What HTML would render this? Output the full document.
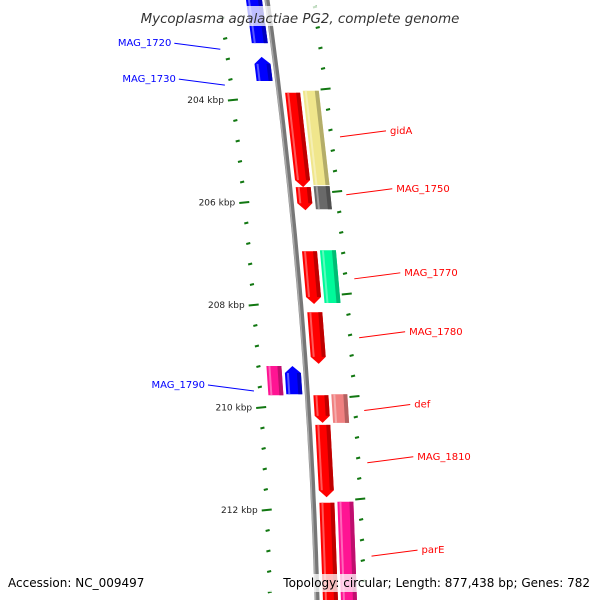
<!DOCTYPE html>
<html><head><meta charset="utf-8"><style>
html,body{margin:0;padding:0;background:#fff;}
svg{display:block;font-family:"DejaVu Sans","Liberation Sans",sans-serif;}
</style></head><body>
<svg id="map" width="600" height="600" viewBox="0 0 600 600" xmlns="http://www.w3.org/2000/svg">
<g id="ticks"></g>
<g id="backbone-g"></g>
<g id="genes"></g>
<g id="labels"></g>
<rect x="140" y="6" width="320" height="20" fill="#fff" opacity="0.75"/>
<text x="300" y="23" text-anchor="middle" font-size="13.4" font-style="italic" fill="#333">Mycoplasma agalactiae PG2, complete genome</text>
<text x="8" y="587" font-size="12" fill="#000">Accession: NC_009497</text>
<rect x="247" y="574" width="350" height="18" fill="#fff" opacity="0.75"/>
<text x="590" y="587" text-anchor="end" font-size="12" fill="#000">Topology: circular; Length: 877,438 bp; Genes: 782</text>
</svg>
<script>
const geneNames=["MAG_1720","MAG_1730","gidA","gidA_b","MAG_1750","MAG_1750_b","MAG_1770","MAG_1770_b","MAG_1780","MAG_1790","MAG_1790_b","def","def_b","MAG_1810","parE","parE_b"];
const geneStart=[201.95,203.16,203.86,203.82,205.70,205.68,206.95,206.93,208.14,209.19,209.19,209.76,209.74,210.34,211.86,211.84];
const geneEnd=[202.89,203.63,205.70,205.66,206.15,206.13,207.98,207.96,209.15,209.76,209.74,210.30,210.30,211.75,213.95,213.95];
const geneTrack=[-1,-1,1,2,1,2,1,2,1,-2,-1,1,2,1,1,2];
const geneArrow=["none","up","down","none","down","none","down","none","down","none","up","down","none","down","none","none"];
const geneColor=["#0000ff","#0000ff","#ff0000","#f0e68c","#ff0000","#696969","#ff0000","#00fa9a","#ff0000","#ff1493","#0000ff","#ff0000","#f08080","#ff0000","#ff0000","#ff1493"];
const labelText=["MAG_1720","MAG_1730","gidA","MAG_1750","MAG_1770","MAG_1780","MAG_1790","def","MAG_1810","parE"];
const labelPos=[202.97,203.67,204.68,205.81,207.45,208.6,209.64,210.02,211.04,212.86];
const labelSide=[-1,-1,1,1,1,1,-1,1,1,1];
const majorTicks=[204,206,208,210,212];

const NS="http://www.w3.org/2000/svg";
function yOf(k){return 100+(k-204)*51.25;}
function bx(y){return 267+0.1384*y-9.17e-5*y*y;}
const trackOff={"-2":[-39,-24],"-1":[-21,-5],"1":[6,21],"2":[24,40]};
function mk(tag,parent,attrs){const e=document.createElementNS(NS,tag);for(const a in attrs)e.setAttribute(a,attrs[a]);parent.appendChild(e);return e;}
function P(y,o){return (bx(y)+o).toFixed(1)+","+y.toFixed(1);}

const bb=document.getElementById('backbone-g');
let pts=[];for(let y=-5;y<=605;y+=10)pts.push(P(y,0));
let bl=mk('polyline',bb,{points:pts.join(' '),fill:'none',stroke:'#777',"stroke-width":5});


let bh=mk('polyline',bb,{points:pts.map(p=>{const [x,y]=p.split(',');return (parseFloat(x)-1.5)+','+y;}).join(' '),fill:'none',stroke:'#aaa',"stroke-width":1.5});



const tg=document.getElementById('ticks');
for(let i=0;i<=30;i++){
  const k=Math.round((202.0+i*0.4)*10)/10;
  const major=majorTicks.some(m=>Math.abs(m-k)<0.01);
  const len=major?10:4;
  let y=yOf(k);
  if(y>-5&&y<605){
    let x=bx(y)-47;
    let t=mk('line',tg,{x1:x-len/2,y1:y+0.5,x2:x+len/2,y2:y-0.5,stroke:'#117711',"stroke-width":2});
    
    
    if(major){
      let lb=mk('text',tg,{x:x-9,y:y+3,"text-anchor":"end","font-size":9,fill:'#222'});
      lb.textContent=k+' kbp';
      
      
    }
  }
  let yr=yOf(k)-11;
  if(yr>-5&&yr<605){
    let x=bx(yr)+47;
    let t=mk('line',tg,{x1:x-len/2,y1:yr+0.5,x2:x+len/2,y2:yr-0.5,stroke:'#117711',"stroke-width":2});
    
    
  }
}

function shade(hex,f){const n=parseInt(hex.slice(1),16);let r=n>>16,g=(n>>8)&255,b=n&255;
  const c=v=>Math.max(0,Math.min(255,Math.round(f>1?v+(255-v)*(f-1):v*f)));return 'rgb('+c(r)+','+c(g)+','+c(b)+')';}
const gg=document.getElementById('genes');
for(let i=0;i<geneNames.length;i++){
  const y1=yOf(geneStart[i]),y2=yOf(geneEnd[i]);
  const [o1,o2]=trackOff[geneTrack[i]];
  const om=(o1+o2)/2,ah=7;
  let poly;
  if(geneArrow[i]==='down') poly=[P(y1,o1),P(y1,o2),P(y2-ah,o2),P(y2,om),P(y2-ah,o1)];
  else if(geneArrow[i]==='up') poly=[P(y1,om),P(y1+ah,o2),P(y2,o2),P(y2,o1),P(y1+ah,o1)];
  else poly=[P(y1,o1),P(y1,o2),P(y2,o2),P(y2,o1)];
  let g=mk('polygon',gg,{points:poly.join(' '),fill:geneColor[i]});
  
  
  const yb=geneArrow[i]==='down'?y2-ah:y2, yt=geneArrow[i]==='up'?y1+ah:y1;
  let s=mk('polygon',gg,{points:[P(yt,o2-4),P(yt,o2),P(yb,o2),P(yb,o2-4)].join(' '),fill:shade(geneColor[i],0.75)});
  
  
  let h=mk('polygon',gg,{points:[P(yt,o1+2),P(yt,o1+4),P(yb,o1+4),P(yb,o1+2)].join(' '),fill:shade(geneColor[i],1.35)});
  
  
}

const lg=document.getElementById('labels');
for(let i=0;i<labelText.length;i++){
  const y=yOf(labelPos[i]);
  const col=labelSide[i]<0?'#0000ff':'#ff0000';
  let x0,x1,tx,anchor;
  if(labelSide[i]<0){x0=bx(y)-53;x1=x0-46;tx=x1-3;anchor='end';}
  else{x0=bx(y)+56;x1=x0+46;tx=x1+4;anchor='start';}
  let l=mk('line',lg,{x1:x0,y1:y+2,x2:x1,y2:y-4,stroke:col,"stroke-width":1});
  
  
  let t=mk('text',lg,{x:tx,y:y-1,"text-anchor":anchor,"font-size":10,fill:col});
  t.textContent=labelText[i];
  
  
}
</script>
</body></html>
